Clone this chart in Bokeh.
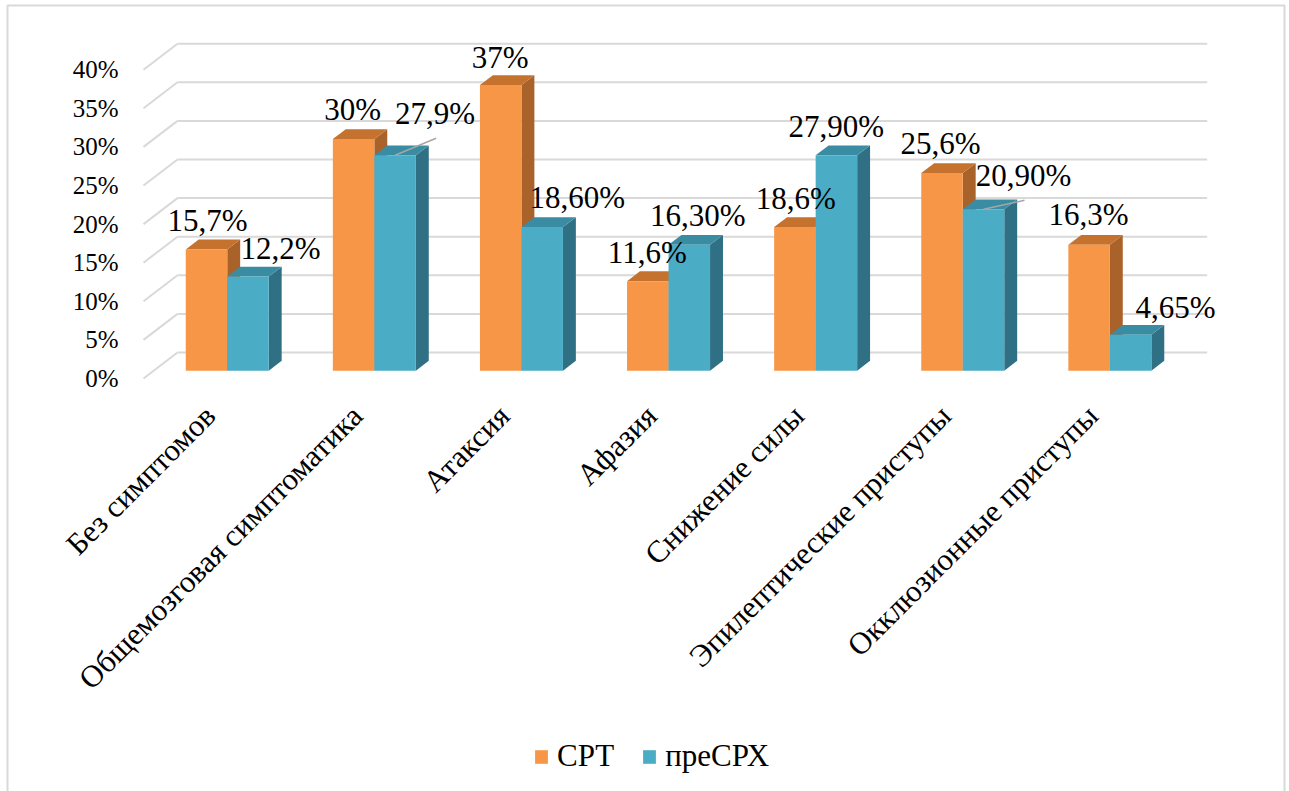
import math
from bokeh.plotting import figure
from bokeh.models import Range1d, Legend, LegendItem
from bokeh.core.properties import value
from bokeh.embed import file_html
from bokeh.resources import INLINE

# ---- data -------------------------------------------------------------
categories = ["Без симптомов", "Общемозговая симптоматика", "Атаксия", "Афазия",
              "Снижение силы", "Эпилептические приступы", "Окклюзионные приступы"]
series_names = ["СРТ", "преСРХ"]
srt = [15.7, 30.0, 37.0, 11.6, 18.6, 25.6, 16.3]
presrh = [12.2, 27.9, 18.6, 16.3, 27.9, 20.9, 4.65]
srt_labels = ["15,7%", "30%", "37%", "11,6%", "18,6%", "25,6%", "16,3%"]
presrh_labels = ["12,2%", "27,9%", "18,60%", "16,30%", "27,90%", "20,90%", "4,65%"]
y_ticks = [0, 5, 10, 15, 20, 25, 30, 35, 40]
y_tick_labels = ["0%", "5%", "10%", "15%", "20%", "25%", "30%", "35%", "40%"]

# ---- layout / style ---------------------------------------------------
W, H = 1289, 791
PX_X = 147.1          # pixels per category band
PX_Y = 7.72           # pixels per percent
ORIGIN_X = 143        # screen x of the front edge of the first band
ORIGIN_Y = 378        # screen y of 0% on the front plane
DX = 34 / PX_X        # oblique shift of the full depth, in data units
DY = 26 / PX_Y
BAR_D0, BAR_D1 = 0.30, 0.68
BAR_W = 41.5 / PX_X
FONT = "Liberation Serif"
BORDER = (7, 5, 1284)  # left, top, right edges of the chart border (screen px)

ORANGE = dict(front="#F79646", top="#C4722D", side="#A9632A")
BLUE = dict(front="#4BACC6", top="#3A8CA3", side="#2F7085")
GRID = "#D9D9D9"

# hand placement of the value labels (screen px relative to the bar top)
srt_lab_dx = [1, -1, -0.5, -0.5, 1, -1.5, -0.5]
srt_lab_dy = [29, 30, 28, 29, 29, 30, 30]
pre_lab_dx = [32.5, 40, 35, 8.5, 0, 40, 45]
pre_lab_dy = [28, 42, 30, 29, 29, 34, 27]
leader = [False, True, False, False, False, True, False]


def sx_to_x(px):
    return (px - ORIGIN_X) / PX_X


def sy_to_y(py):
    return (ORIGIN_Y - py) / PX_Y


p = figure(width=W, height=H, output_backend="svg", toolbar_location=None,
           x_axis_location=None, y_axis_location=None,
           min_border_left=0, min_border_top=0, min_border_right=0, min_border_bottom=0,
           x_range=Range1d(sx_to_x(0), sx_to_x(W)),
           y_range=Range1d(sy_to_y(H), sy_to_y(0)))
p.grid.visible = False
p.outline_line_color = None
p.background_fill_color = "white"
p.border_fill_color = "white"

n = len(categories)

# ---- chart border (left, top, right) -----------------------------------
bl, bt, br = sx_to_x(BORDER[0]), sy_to_y(BORDER[1]), sx_to_x(BORDER[2])
bb = sy_to_y(H + 5)
p.multi_line(xs=[[bl, bl, br, br]], ys=[[bb, bt, bt, bb]], line_color=GRID, line_width=2)

# ---- walls: back wall gridlines and the diagonal side-wall lines -------
p.segment(x0=[DX] * len(y_ticks), y0=[t + DY for t in y_ticks],
          x1=[n + DX] * len(y_ticks), y1=[t + DY for t in y_ticks],
          line_color=GRID, line_width=2)
p.segment(x0=[0] * len(y_ticks), y0=y_ticks,
          x1=[DX] * len(y_ticks), y1=[t + DY for t in y_ticks],
          line_color=GRID, line_width=2)

# ---- y tick labels on the front plane ----------------------------------
p.text(x=[-25 / PX_X] * len(y_ticks), y=y_ticks, text=y_tick_labels,
       text_font=value(FONT), text_font_size="25px", text_color="#000000",
       text_align="right", text_baseline="middle")

# ---- 3D bars -------------------------------------------------------------
dd = BAR_D1 - BAR_D0
base = BAR_D0 * DY


def bar_faces(vals, side):
    lefts, rights, tops = [], [], []
    for i, v in enumerate(vals):
        c = i + 0.5 + BAR_D0 * DX
        x0, x1 = (c - BAR_W, c) if side == 0 else (c, c + BAR_W)
        lefts.append(x0)
        rights.append(x1)
        tops.append(base + v)
    top_xs = [[a, b, b + dd * DX, a + dd * DX] for a, b in zip(lefts, rights)]
    top_ys = [[t, t, t + dd * DY, t + dd * DY] for t in tops]
    side_xs = [[b, b + dd * DX, b + dd * DX, b] for b in rights]
    side_ys = [[base, base + dd * DY, t + dd * DY, t] for t in tops]
    return lefts, rights, tops, top_xs, top_ys, side_xs, side_ys


front_renderers = []
for k, (vals, col) in enumerate([(srt, ORANGE), (presrh, BLUE)]):
    lefts, rights, tops, txs, tys, sxs, sys_ = bar_faces(vals, k)
    p.patches(xs=sxs, ys=sys_, fill_color=col["side"], line_color=None)
    p.patches(xs=txs, ys=tys, fill_color=col["top"], line_color=None)
    r = p.quad(left=lefts, right=rights, bottom=[base] * n, top=tops,
               fill_color=col["front"], line_color=None)
    front_renderers.append(r)

# ---- value labels ------------------------------------------------------
ox, oy = [], []
for i, v in enumerate(srt):
    c = i + 0.5 + BAR_D0 * DX - BAR_W / 2
    ox.append(c + srt_lab_dx[i] / PX_X)
    oy.append(base + v + srt_lab_dy[i] / PX_Y)
bx, by = [], []
for i, v in enumerate(presrh):
    c = i + 0.5 + BAR_D0 * DX + BAR_W / 2
    bx.append(c + pre_lab_dx[i] / PX_X)
    by.append(base + v + pre_lab_dy[i] / PX_Y)

# leader lines from the middle of the bar top to the moved label
lx0, ly0, lx1, ly1 = [], [], [], []
for i, v in enumerate(presrh):
    if leader[i]:
        lx0.append(i + 0.5 + BAR_D0 * DX + BAR_W / 2)
        ly0.append(base + v)
        lx1.append(bx[i] + 1 / PX_X)
        ly1.append(by[i] - 25 / PX_Y)
p.segment(x0=lx0, y0=ly0, x1=lx1, y1=ly1, line_color="#A6A6A6", line_width=1.5)

p.text(x=ox, y=oy, text=srt_labels, text_font=value(FONT), text_font_size="31px",
       text_color="#000000", text_align="center", text_baseline="middle")
p.text(x=bx, y=by, text=presrh_labels, text_font=value(FONT), text_font_size="31px",
       text_color="#000000", text_align="center", text_baseline="middle")

# ---- rotated category labels ------------------------------------------
cat_x = [i + 0.5 - 7 / PX_X for i in range(n)]
cat_y = [sy_to_y(410)] * n
p.text(x=cat_x, y=cat_y, text=categories, angle=math.pi / 4,
       text_font=value(FONT), text_font_size="31px", text_color="#000000",
       text_align="right", text_baseline="middle")

# ---- legend -------------------------------------------------------------
legend = Legend(items=[LegendItem(label=series_names[0], renderers=[front_renderers[0]]),
                       LegendItem(label=series_names[1], renderers=[front_renderers[1]])],
                orientation="horizontal", location=(533, 17),
                border_line_color=None, background_fill_alpha=0,
                padding=0, margin=0, spacing=27, label_standoff=8,
                glyph_width=16, glyph_height=17,
                label_text_font=FONT, label_text_font_size="31px",
                label_text_color="#000000")
p.add_layout(legend, "center")

open("out.html", "w").write(file_html(p, INLINE))
